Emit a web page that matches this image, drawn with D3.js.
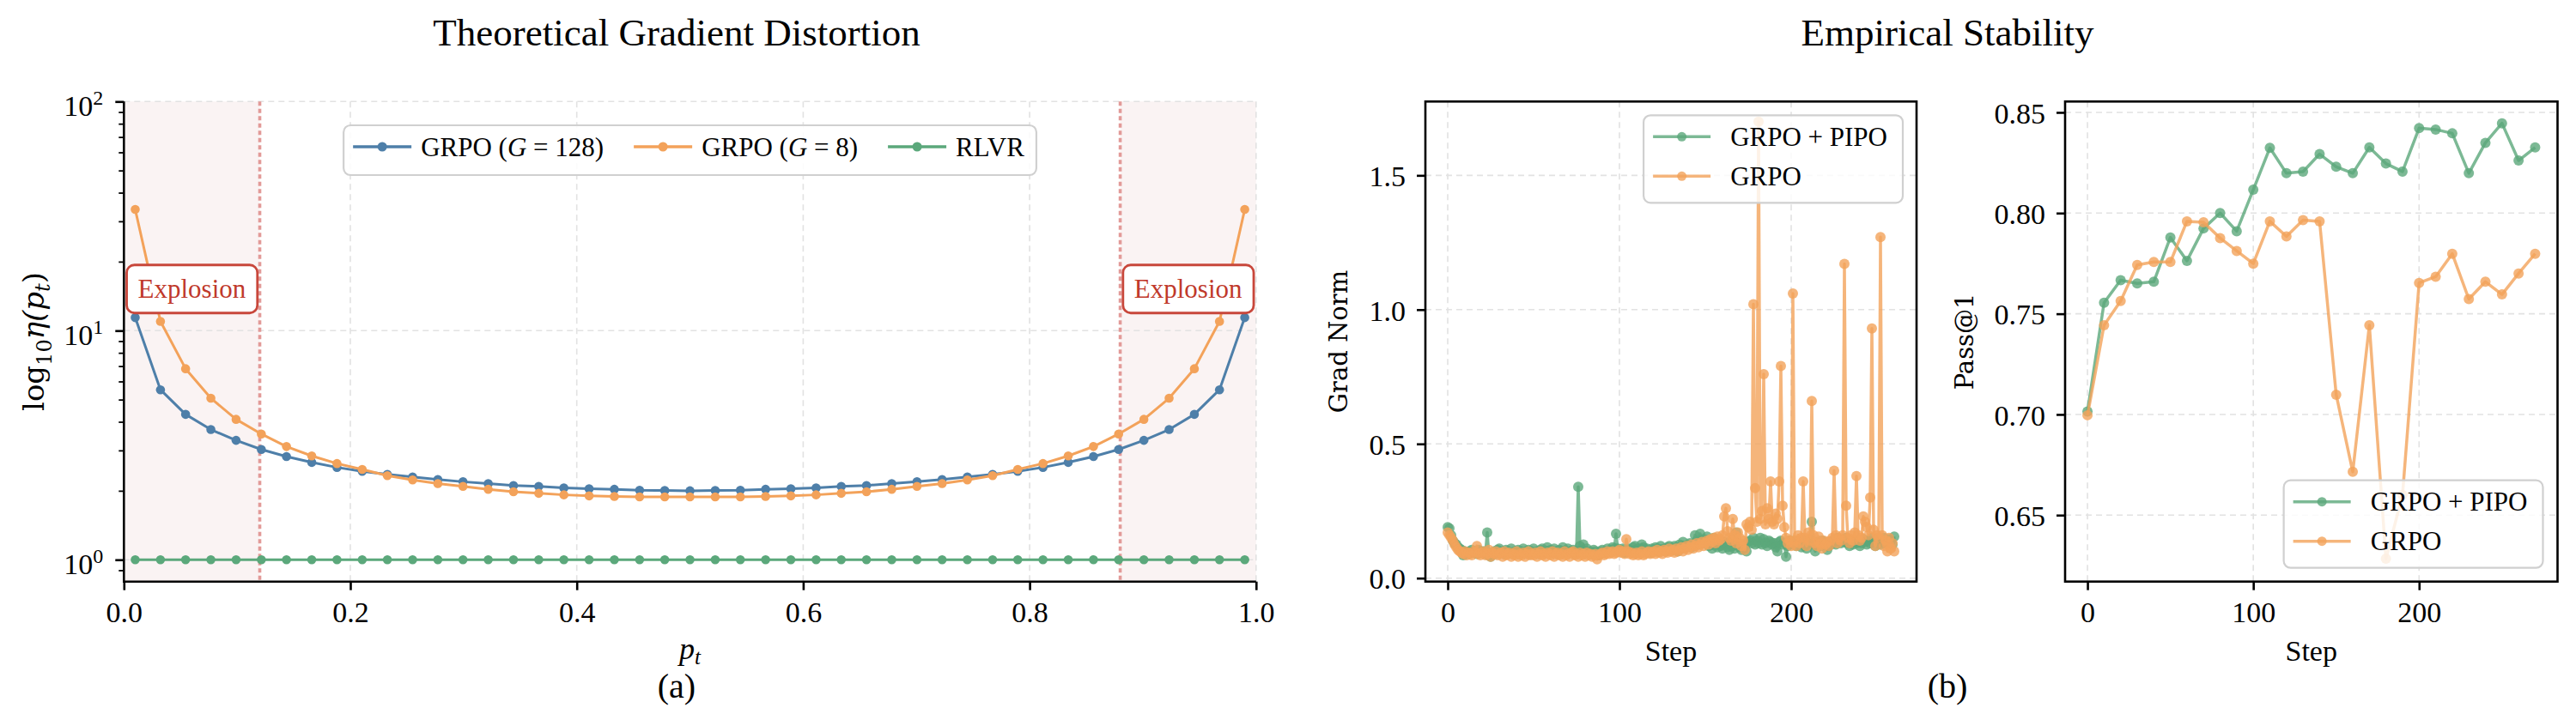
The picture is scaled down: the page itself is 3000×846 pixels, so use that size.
<!DOCTYPE html>
<html lang="en">
<head>
<meta charset="UTF-8">
<title>Theoretical Gradient Distortion / Empirical Stability</title>
<script src="https://d3js.org/d3.v7.min.js"></script>
<style>
  body { margin: 0; background: #fff; }
  svg { display: block; font-family: "Liberation Serif", "Times New Roman", serif; }
  .tick text { font-size: 34px; fill: #000; font-family: "Liberation Serif", serif; }
  .tick line { stroke: #000; }
  .grid line { stroke: #e2e2e2; stroke-width: 1.6; stroke-dasharray: 7,5; }
</style>
</head>
<body>
<svg id="chart" width="3000" height="846"></svg>
<script>
// ---------------- data: panel (a) ----------------
const pGrid = [0.0100, 0.0323, 0.0545, 0.0768, 0.0991, 0.1214, 0.1436, 0.1659, 0.1882, 0.2105,
  0.2327, 0.2550, 0.2773, 0.2995, 0.3218, 0.3441, 0.3664, 0.3886, 0.4109, 0.4332,
  0.4555, 0.4777, 0.5000, 0.5223, 0.5445, 0.5668, 0.5891, 0.6114, 0.6336, 0.6559,
  0.6782, 0.7005, 0.7227, 0.7450, 0.7673, 0.7895, 0.8118, 0.8341, 0.8564, 0.8786,
  0.9009, 0.9232, 0.9455, 0.9677, 0.9900];
const etaG128 = [11.4, 5.52, 4.31, 3.70, 3.32, 3.03, 2.82, 2.66, 2.53, 2.43,
  2.36, 2.30, 2.24, 2.19, 2.15, 2.11, 2.09, 2.06, 2.04, 2.03,
  2.01, 2.005, 2.00, 2.005, 2.01, 2.03, 2.04, 2.06, 2.09, 2.11,
  2.15, 2.19, 2.24, 2.30, 2.36, 2.43, 2.53, 2.66, 2.82, 3.03,
  3.32, 3.70, 4.31, 5.52, 11.4];
const etaG8 = [33.8, 10.97, 6.82, 5.07, 4.10, 3.54, 3.12, 2.84, 2.63, 2.48,
  2.33, 2.23, 2.15, 2.09, 2.03, 1.98, 1.95, 1.92, 1.90, 1.89,
  1.88, 1.88, 1.88, 1.88, 1.88, 1.89, 1.90, 1.92, 1.95, 1.98,
  2.03, 2.09, 2.15, 2.23, 2.33, 2.48, 2.63, 2.84, 3.12, 3.54,
  4.10, 5.07, 6.82, 10.97, 33.8];
const etaRLVR = [1, 1, 1, 1, 1, 1, 1, 1, 1, 1, 1, 1, 1, 1, 1, 1, 1, 1, 1, 1, 1, 1, 1,
  1, 1, 1, 1, 1, 1, 1, 1, 1, 1, 1, 1, 1, 1, 1, 1, 1, 1, 1, 1, 1, 1];
const pTicks = [0, 0.2, 0.4, 0.6, 0.8, 1.0];
const etaMajor = [1, 10, 100];
const etaMinor = [0.9, 2, 3, 4, 5, 6, 7, 8, 9, 20, 30, 40, 50, 60, 70, 80, 90];
const explosionZones = [[0, 0.12], [0.88, 1.0]];
const explosionLabels = [[0.06, 15.2], [0.94, 15.2]];

// ---------------- data: panel (b) grad norm (one value per step, step = index) ----------------
const gradPIPO = [
  0.19, 0.185, 0.16, 0.14, 0.13, 0.125, 0.115, 0.11, 0.105, 0.085,
  0.10, 0.095, 0.09, 0.10, 0.105, 0.095, 0.10, 0.09, 0.105, 0.10,
  0.095, 0.10, 0.09, 0.17, 0.085, 0.08, 0.095, 0.10, 0.09, 0.105,
  0.11, 0.095, 0.10, 0.09, 0.105, 0.10, 0.095, 0.11, 0.09, 0.10,
  0.095, 0.105, 0.09, 0.10, 0.11, 0.095, 0.10, 0.105, 0.09, 0.10,
  0.11, 0.095, 0.10, 0.09, 0.105, 0.11, 0.10, 0.095, 0.115, 0.10,
  0.105, 0.095, 0.11, 0.10, 0.09, 0.105, 0.10, 0.115, 0.095, 0.10,
  0.11, 0.10, 0.095, 0.105, 0.09, 0.10, 0.34, 0.12, 0.105, 0.125,
  0.10, 0.11, 0.095, 0.10, 0.09, 0.105, 0.10, 0.095, 0.085, 0.10,
  0.105, 0.095, 0.10, 0.11, 0.10, 0.105, 0.115, 0.11, 0.165, 0.11,
  0.10, 0.105, 0.11, 0.095, 0.10, 0.11, 0.105, 0.10, 0.115, 0.12,
  0.105, 0.11, 0.10, 0.125, 0.115, 0.105, 0.11, 0.10, 0.095, 0.11,
  0.105, 0.115, 0.11, 0.10, 0.12, 0.105, 0.11, 0.10, 0.115, 0.12,
  0.11, 0.105, 0.12, 0.115, 0.10, 0.125, 0.11, 0.135, 0.12, 0.115,
  0.125, 0.13, 0.115, 0.12, 0.16, 0.14, 0.125, 0.165, 0.13, 0.145,
  0.135, 0.155, 0.12, 0.14, 0.11, 0.15, 0.125, 0.115, 0.13, 0.12,
  0.11, 0.135, 0.125, 0.115, 0.105, 0.14, 0.12, 0.11, 0.17, 0.13,
  0.115, 0.105, 0.125, 0.12, 0.10, 0.135, 0.14, 0.13, 0.15, 0.125,
  0.14, 0.13, 0.15, 0.125, 0.145, 0.13, 0.12, 0.14, 0.135, 0.125,
  0.13, 0.115, 0.10, 0.135, 0.14, 0.125, 0.13, 0.08, 0.12, 0.14,
  0.13, 0.125, 0.14, 0.12, 0.135, 0.13, 0.115, 0.14, 0.12, 0.11,
  0.13, 0.14, 0.21, 0.125, 0.10, 0.135, 0.13, 0.12, 0.14, 0.125,
  0.13, 0.105, 0.12, 0.135, 0.13, 0.14, 0.125, 0.15, 0.145, 0.13,
  0.14, 0.135, 0.15, 0.13, 0.12, 0.14, 0.125, 0.135, 0.13, 0.14,
  0.12, 0.13, 0.145, 0.135, 0.125, 0.14, 0.13, 0.15, 0.135, 0.12,
  0.14, 0.13, 0.125, 0.14, 0.15, 0.13, 0.135, 0.145, 0.14, 0.125,
  0.155];
const gradGRPO = [
  0.17, 0.16, 0.15, 0.14, 0.125, 0.115, 0.105, 0.10, 0.095, 0.09,
  0.10, 0.085, 0.095, 0.09, 0.085, 0.10, 0.095, 0.12, 0.09, 0.085,
  0.095, 0.10, 0.085, 0.09, 0.105, 0.08, 0.095, 0.09, 0.10, 0.085,
  0.09, 0.095, 0.08, 0.10, 0.085, 0.09, 0.095, 0.08, 0.09, 0.085,
  0.10, 0.08, 0.09, 0.085, 0.095, 0.08, 0.09, 0.10, 0.085, 0.09,
  0.085, 0.095, 0.08, 0.09, 0.10, 0.085, 0.09, 0.08, 0.095, 0.09,
  0.085, 0.10, 0.08, 0.09, 0.095, 0.085, 0.09, 0.08, 0.10, 0.085,
  0.09, 0.08, 0.095, 0.10, 0.085, 0.09, 0.08, 0.095, 0.085, 0.09,
  0.08, 0.095, 0.085, 0.09, 0.08, 0.085, 0.09, 0.07, 0.085, 0.09,
  0.095, 0.085, 0.09, 0.10, 0.09, 0.095, 0.10, 0.09, 0.095, 0.10,
  0.105, 0.095, 0.10, 0.09, 0.145, 0.10, 0.09, 0.095, 0.085, 0.09,
  0.095, 0.085, 0.09, 0.10, 0.085, 0.09, 0.095, 0.10, 0.09, 0.095,
  0.10, 0.09, 0.105, 0.095, 0.10, 0.09, 0.105, 0.10, 0.095, 0.11,
  0.10, 0.105, 0.095, 0.11, 0.10, 0.105, 0.115, 0.10, 0.11, 0.12,
  0.105, 0.115, 0.125, 0.11, 0.12, 0.13, 0.115, 0.125, 0.135, 0.12,
  0.13, 0.14, 0.125, 0.145, 0.135, 0.15, 0.13, 0.155, 0.14, 0.145,
  0.16, 0.23, 0.26, 0.175, 0.15, 0.14, 0.22, 0.16, 0.13, 0.17,
  0.15, 0.12, 0.14, 0.105, 0.20, 0.19, 0.21, 0.18, 1.02, 0.335,
  0.21, 1.70, 0.22, 0.25, 0.76, 0.20, 0.26, 0.22, 0.36, 0.21,
  0.20, 0.24, 0.22, 0.36, 0.79, 0.27, 0.19, 0.15, 0.13, 0.14,
  0.12, 1.06, 0.14, 0.12, 0.16, 0.13, 0.15, 0.36, 0.15, 0.12,
  0.17, 0.14, 0.66, 0.16, 0.13, 0.12, 0.155, 0.13, 0.11, 0.14,
  0.125, 0.135, 0.12, 0.14, 0.15, 0.40, 0.16, 0.13, 0.15, 0.14,
  0.16, 1.17, 0.27, 0.15, 0.13, 0.16, 0.14, 0.17, 0.38, 0.16,
  0.14, 0.15, 0.23, 0.21, 0.19, 0.16, 0.30, 0.93, 0.18, 0.12,
  0.16, 0.15, 1.27, 0.16, 0.12, 0.14, 0.10, 0.15, 0.11, 0.13,
  0.10];
const gradYTicks = [0, 0.5, 1.0, 1.5];
const stepTicks = [0, 100, 200];

// ---------------- data: panel (b) pass@1 ----------------
const evalSteps = [0, 10, 20, 30, 40, 50, 60, 70, 80, 90, 100, 110, 120, 130,
  140, 150, 160, 170, 180, 190, 200, 210, 220, 230, 240, 250, 260, 270];
const passPIPO = [0.7015, 0.7555, 0.7667, 0.7651, 0.7659, 0.7879, 0.7763, 0.7924, 0.8000, 0.7910,
  0.8116, 0.8324, 0.8198, 0.8206, 0.8293, 0.8230, 0.8198, 0.8326, 0.8246, 0.8206,
  0.8422, 0.8415, 0.8396, 0.8198, 0.8349, 0.8446, 0.8261, 0.8326];
const passGRPO = [0.6996, 0.7443, 0.7563, 0.7742, 0.7757, 0.7757, 0.7959, 0.7954, 0.7876, 0.7812,
  0.7749, 0.7959, 0.7884, 0.7965, 0.7959, 0.7098, 0.6715, 0.7443, 0.6284, 0.6600,
  0.7653, 0.7684, 0.7798, 0.7573, 0.7659, 0.7596, 0.7700, 0.7798];
const passYTicks = [0.65, 0.70, 0.75, 0.80, 0.85];

const BLUE = "#4e7fa9", ORANGE = "#f3a25a", GREEN = "#5ba87b";

const svg = d3.select("#chart");
svg.append("rect").attr("width", 3000).attr("height", 846).attr("fill", "#fff");

function cleanAxis(g, width) {
  g.attr("font-family", null).attr("font-size", null);
  g.select(".domain").remove();
  g.selectAll(".tick line").attr("stroke-width", width || 2.6);
}

function addSeries(g, xs, ys, xS, yS, color, lw, r, alpha) {
  const pts = ys.map((v, i) => [xS(xs ? xs[i] : i), yS(v)]);
  g.append("path").attr("d", d3.line()(pts))
    .attr("fill", "none").attr("stroke", color).attr("stroke-width", lw)
    .attr("stroke-linejoin", "round").attr("stroke-opacity", alpha);
  g.append("g").selectAll("circle").data(pts).join("circle")
    .attr("cx", d => d[0]).attr("cy", d => d[1]).attr("r", r)
    .attr("fill", color).attr("fill-opacity", alpha);
}

function legendRow(g, x, y, color, label, handle, gap, alpha) {
  g.append("line").attr("x1", x).attr("x2", x + handle).attr("y1", y).attr("y2", y)
    .attr("stroke", color).attr("stroke-width", 3.5).attr("stroke-opacity", alpha);
  g.append("circle").attr("cx", x + handle / 2).attr("cy", y).attr("r", 5.5)
    .attr("fill", color).attr("fill-opacity", alpha);
  const t = g.append("text").attr("x", x + handle + gap).attr("y", y).attr("dy", "0.34em")
    .attr("font-size", 31);
  label(t);
  return t.node().getComputedTextLength();
}

// ================= panel (a) =================
const A = { l: 144.3, r: 1462.8, t: 118.3, b: 677.7 };
const xA = d3.scaleLinear().domain([0, 1]).range([A.l, A.r]);
const yA = d3.scaleLog().domain([0.803, 100]).range([A.b, A.t]);
const gA = svg.append("g");

explosionZones.forEach(z => {
  gA.append("rect").attr("x", xA(z[0])).attr("y", A.t).attr("width", xA(z[1]) - xA(z[0]))
    .attr("height", A.b - A.t).attr("fill", "#faf3f3");
});

gA.append("g").attr("class", "grid")
  .selectAll("line").data(pTicks).join("line")
  .attr("x1", d => xA(d)).attr("x2", d => xA(d)).attr("y1", A.t).attr("y2", A.b);
gA.append("g").attr("class", "grid")
  .selectAll("line").data(etaMajor).join("line")
  .attr("x1", A.l).attr("x2", A.r).attr("y1", d => yA(d)).attr("y2", d => yA(d));

[0.12, 0.88].forEach(v => {
  gA.append("line").attr("x1", xA(v)).attr("x2", xA(v)).attr("y1", A.t).attr("y2", A.b)
    .attr("stroke", "#e29a98").attr("stroke-width", 3.6).attr("stroke-dasharray", "5,3.5");
});

addSeries(gA, pGrid, etaG128, xA, yA, BLUE, 3, 5.3, 1);
addSeries(gA, pGrid, etaG8, xA, yA, ORANGE, 3, 5.3, 1);
addSeries(gA, pGrid, etaRLVR, xA, yA, GREEN, 3, 5.3, 1);

explosionLabels.forEach(e => {
  const box = gA.append("g");
  const t = box.append("text").attr("x", xA(e[0])).attr("y", yA(e[1])).attr("dy", "0.34em")
    .attr("text-anchor", "middle").attr("font-size", 31).attr("fill", "#c0392b").text("Explosion");
  const bb = t.node().getBBox();
  box.insert("rect", "text").attr("x", bb.x - 13).attr("y", yA(e[1]) - 28)
    .attr("width", bb.width + 26).attr("height", 56).attr("rx", 9)
    .attr("fill", "#fff").attr("stroke", "#c8473b").attr("stroke-width", 2.8);
});

// axes (a)
const axA = gA.append("g").attr("transform", `translate(0,${A.b})`)
  .call(d3.axisBottom(xA).tickValues(pTicks).tickFormat(d3.format(".1f")).tickSize(10).tickPadding(13));
cleanAxis(axA);
const ayA = gA.append("g").attr("transform", `translate(${A.l},0)`)
  .call(d3.axisLeft(yA).tickValues(etaMajor).tickFormat("").tickSize(10));
cleanAxis(ayA);
const ayAm = gA.append("g").attr("transform", `translate(${A.l},0)`)
  .call(d3.axisLeft(yA).tickValues(etaMinor).tickFormat("").tickSize(6));
cleanAxis(ayAm, 1.8);
etaMajor.forEach(v => {
  const t = gA.append("text").attr("x", A.l - 24).attr("y", yA(v) + 16.5)
    .attr("text-anchor", "end").attr("font-size", 34);
  t.append("tspan").text("10");
  t.append("tspan").attr("font-size", 24).attr("dy", -13).text(Math.round(Math.log10(v)));
});
gA.append("line").attr("x1", A.l).attr("x2", A.l).attr("y1", A.t).attr("y2", A.b + 1.3)
  .attr("stroke", "#000").attr("stroke-width", 2.6);
gA.append("line").attr("x1", A.l - 1.3).attr("x2", A.r).attr("y1", A.b).attr("y2", A.b)
  .attr("stroke", "#000").attr("stroke-width", 2.6);

// legend (a)
{
  const lg = gA.append("g");
  const frame = lg.append("rect");
  const rowY = 171;
  let x = 0;
  const entries = [
    [BLUE, t => { t.append("tspan").text("GRPO ("); t.append("tspan").attr("font-style", "italic").text("G"); t.append("tspan").text(" = 128)"); }],
    [ORANGE, t => { t.append("tspan").text("GRPO ("); t.append("tspan").attr("font-style", "italic").text("G"); t.append("tspan").text(" = 8)"); }],
    [GREEN, t => t.text("RLVR")]
  ];
  const inner = lg.append("g");
  entries.forEach((e, i) => {
    const w = legendRow(inner, x, rowY, e[0], e[1], 68, 11, 1);
    x += 68 + 11 + w + (i < entries.length - 1 ? 35 : 0);
  });
  const boxW = x + 11 + 14;
  const left = (A.l + A.r) / 2 - boxW / 2;
  inner.attr("transform", `translate(${left + 11},0)`);
  frame.attr("x", left).attr("y", 146).attr("width", boxW).attr("height", 58).attr("rx", 8)
    .attr("fill", "#fff").attr("fill-opacity", 0.85).attr("stroke", "#d0d0d0").attr("stroke-width", 2.2);
}

// labels (a)
{
  const yl = gA.append("text").attr("transform", `translate(51,${(A.t + A.b) / 2}) rotate(-90)`)
    .attr("text-anchor", "middle").attr("font-family", "DejaVu Serif").attr("font-size", 34);
  yl.append("tspan").text("log");
  yl.append("tspan").attr("font-size", 24).attr("dy", 9).text("10");
  yl.append("tspan").attr("font-style", "italic").attr("dy", -9).text("\u03b7(");
  yl.append("tspan").attr("font-style", "italic").text("p");
  yl.append("tspan").attr("font-style", "italic").attr("font-size", 24).attr("dy", 7).text("t");
  yl.append("tspan").attr("dy", -7).text(")");

  const xl = gA.append("text").attr("x", (A.l + A.r) / 2).attr("y", 768)
    .attr("text-anchor", "middle").attr("font-size", 36);
  xl.append("tspan").attr("font-style", "italic").text("p");
  xl.append("tspan").attr("font-style", "italic").attr("font-size", 25).attr("dy", 6).text("t");

  svg.append("text").attr("x", 788).attr("y", 53).attr("text-anchor", "middle")
    .attr("font-size", 45).text("Theoretical Gradient Distortion");
  svg.append("text").attr("x", 788).attr("y", 813).attr("text-anchor", "middle")
    .attr("font-size", 40).text("(a)");
}

// ================= panel (b) helpers =================
function framePanel(P, xS, yS, yTicks, yFmt, yLabel, ylX) {
  const g = svg.append("g");
  g.append("g").attr("class", "grid").selectAll("line").data(stepTicks).join("line")
    .attr("x1", d => xS(d)).attr("x2", d => xS(d)).attr("y1", P.t).attr("y2", P.b);
  g.append("g").attr("class", "grid").selectAll("line").data(yTicks).join("line")
    .attr("x1", P.l).attr("x2", P.r).attr("y1", d => yS(d)).attr("y2", d => yS(d));
  const ax = g.append("g").attr("transform", `translate(0,${P.b})`)
    .call(d3.axisBottom(xS).tickValues(stepTicks).tickSize(10).tickPadding(13));
  cleanAxis(ax);
  const ay = g.append("g").attr("transform", `translate(${P.l},0)`)
    .call(d3.axisLeft(yS).tickValues(yTicks).tickFormat(yFmt).tickSize(10).tickPadding(13));
  cleanAxis(ay);
  ay.selectAll(".tick text").attr("dy", "0.36em");
  g.append("text").attr("x", (P.l + P.r) / 2).attr("y", 770).attr("text-anchor", "middle")
    .attr("font-size", 34).text("Step");
  g.append("text").attr("transform", `translate(${ylX},${(P.t + P.b) / 2}) rotate(-90)`)
    .attr("text-anchor", "middle").attr("dy", "0.35em")
    .attr("font-family", "DejaVu Serif").attr("font-size", 29).text(yLabel);
  return g;
}
function boxSpine(g, P) {
  g.append("rect").attr("x", P.l).attr("y", P.t).attr("width", P.r - P.l).attr("height", P.b - P.t)
    .attr("fill", "none").attr("stroke", "#000").attr("stroke-width", 2.6);
}
function legendBox(g, right, top) {
  const lg = g.append("g");
  const frame = lg.append("rect");
  const inner = lg.append("g");
  const labels = [[GREEN, "GRPO + PIPO"], [ORANGE, "GRPO"]];
  let maxW = 0;
  labels.forEach((e, i) => {
    const w = legendRow(inner, 0, top + 25 + i * 46, e[0], t => t.text(e[1]), 67, 23, 0.8);
    maxW = Math.max(maxW, w);
  });
  const boxW = 11 + 67 + 23 + maxW + 18;
  inner.attr("transform", `translate(${right - boxW + 11},0)`);
  frame.attr("x", right - boxW).attr("y", top).attr("width", boxW).attr("height", 102).attr("rx", 8)
    .attr("fill", "#fff").attr("fill-opacity", 0.82).attr("stroke", "#d0d0d0").attr("stroke-width", 2.2);
}

// ================= panel (b) grad norm =================
const B = { l: 1660, r: 2232, t: 118.3, b: 677.7 };
const xB = d3.scaleLinear().domain([-13, 273]).range([B.l, B.r]);
const yB = d3.scaleLinear().domain([-0.0128, 1.775]).range([B.b, B.t]);
const gB = framePanel(B, xB, yB, gradYTicks, d3.format(".1f"), "Grad Norm", 1559);
addSeries(gB, null, gradPIPO, xB, yB, GREEN, 3.5, 6, 0.8);
addSeries(gB, null, gradGRPO, xB, yB, ORANGE, 3.5, 6, 0.8);
boxSpine(gB, B);
legendBox(gB, B.r - 16, B.t + 16);

// ================= panel (b) pass@1 =================
const C = { l: 2405, r: 2978.5, t: 118.3, b: 677.7 };
const xC = d3.scaleLinear().domain([-13.5, 283.5]).range([C.l, C.r]);
const yC = d3.scaleLinear().domain([0.617, 0.8554]).range([C.b, C.t]);
const gC = framePanel(C, xC, yC, passYTicks, d3.format(".2f"), "Pass@1", 2288);
addSeries(gC, evalSteps, passPIPO, xC, yC, GREEN, 3.5, 6, 0.8);
addSeries(gC, evalSteps, passGRPO, xC, yC, ORANGE, 3.5, 6, 0.8);
boxSpine(gC, C);
legendBox(gC, C.r - 17, C.b - 16 - 102);

svg.append("text").attr("x", 2268).attr("y", 53).attr("text-anchor", "middle")
  .attr("font-size", 45).text("Empirical Stability");
svg.append("text").attr("x", 2268).attr("y", 813).attr("text-anchor", "middle")
  .attr("font-size", 40).text("(b)");
</script>
</body>
</html>
